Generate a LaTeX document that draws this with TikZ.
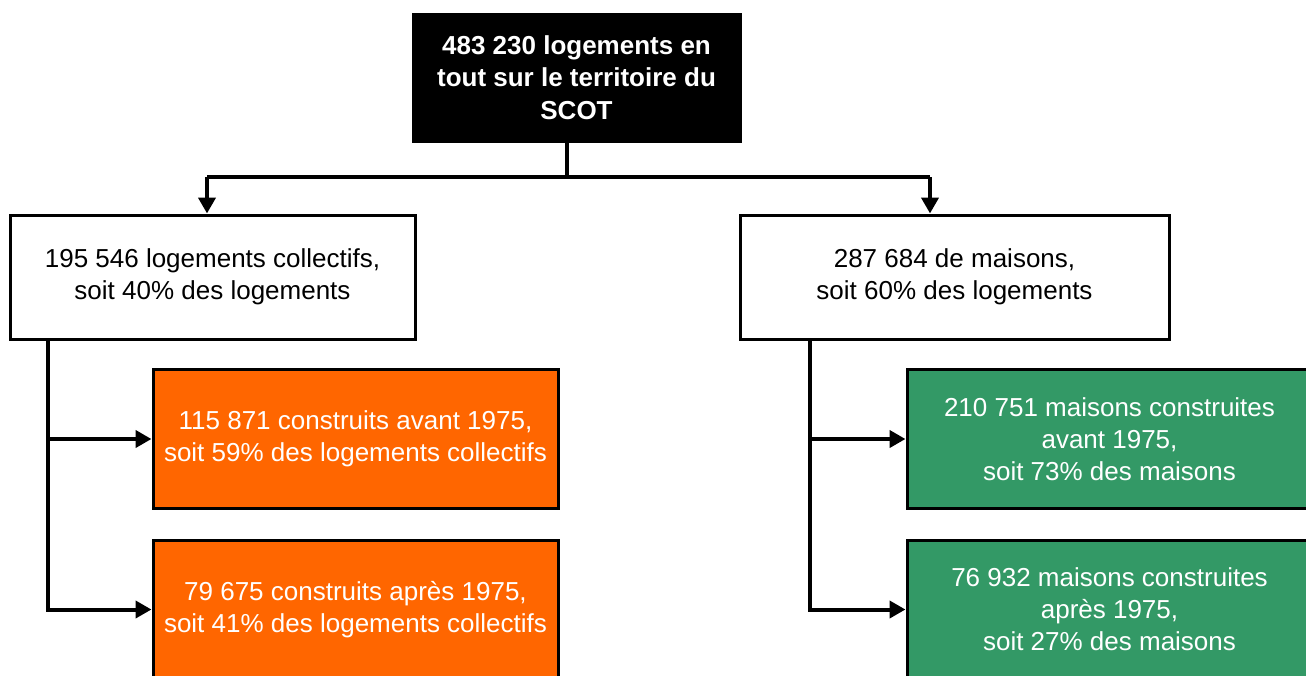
\documentclass[tikz,border=0pt]{standalone}
\usepackage{fontspec}
\setmainfont{Liberation Sans}
\usetikzlibrary{arrows.meta, positioning}
\definecolor{orangebox}{HTML}{FF6600}
\definecolor{greenbox}{HTML}{339966}

\begin{document}
\begin{tikzpicture}[x=1pt, y=-1pt,
  box/.style={draw=black, line width=3pt, align=center, inner sep=0pt,
    font=\fontsize{26}{32}\selectfont},
  topbox/.style={box, fill=black, text=white,
    font=\fontsize{26}{32.5}\selectfont\bfseries,
    minimum width=327pt, minimum height=127pt},
  typebox/.style={box, fill=white, minimum height=124pt},
  oldbox/.style={box, fill=orangebox, text=white, minimum width=405pt, minimum height=139pt},
  newbox/.style={box, fill=greenbox, text=white, minimum width=405pt, minimum height=139pt},
  link/.style={line width=4pt},
  arr/.style={link, -{Triangle[length=16pt, width=17pt]}}]
\useasboundingbox (0,0) rectangle (1306,675);
\node[topbox] (total) at (576.5,77.5) {483 230 logements en\\tout sur le territoire du\\SCOT};
\node[typebox, minimum width=405pt] (coll) at (212.5,277) {195 546 logements collectifs,\\soit 40\% des logements};
\node[typebox, minimum width=429pt] (mais) at (954.5,277) {287 684 de maisons,\\soit 60\% des logements};
\node[oldbox] (collavant) at (355.5,439) {115 871 construits avant 1975,\\soit 59\% des logements collectifs};
\node[oldbox] (collapres) at (355.5,609.5) {79 675 construits après 1975,\\soit 41\% des logements collectifs};
\node[newbox] (maisavant) at (1109.5,439) {210 751 maisons construites\\avant 1975,\\soit 73\% des maisons};
\node[newbox] (maisapres) at (1109.5,609.5) {76 932 maisons construites\\après 1975,\\soit 27\% des maisons};
\coordinate (split) at (567,177);
\coordinate (dropL) at (207,177);
\coordinate (dropR) at (930,177);
\coordinate (collstem) at (48,339);
\coordinate (maisstem) at (810,339);
\draw[link] (total.south -| split) -- (split);
\draw[link] (dropL) -- (dropR);
\draw[arr] (dropL) -- (coll.north -| dropL);
\draw[arr] (dropR) -- (mais.north -| dropR);
\draw[arr] (collstem) |- (collavant.west);
\draw[arr] (collstem) |- (collapres.west);
\draw[arr] (maisstem) |- (maisavant.west);
\draw[arr] (maisstem) |- (maisapres.west);
\end{tikzpicture}
\end{document}
